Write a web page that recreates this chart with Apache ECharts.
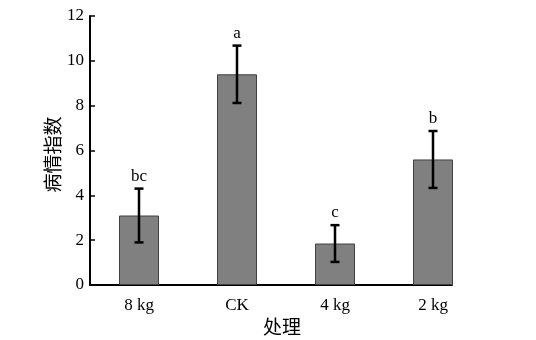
<!DOCTYPE html>
<html>
<head>
<meta charset="utf-8">
<script src="https://cdn.jsdelivr.net/npm/echarts@6/dist/echarts.min.js"></script>
<style>html,body{margin:0;padding:0;background:#fff}#c{width:536px;height:340px}</style>
</head>
<body>
<div id="c"></div>
<script>
const categories = ['8 kg', 'CK', '4 kg', '2 kg'];
const means = [3.1, 9.4, 1.85, 5.6];
const errors = [1.2, 1.28, 0.82, 1.27];
const letters = ['bc', 'a', 'c', 'b'];
const yTicks = [0, 2, 4, 6, 8, 10, 12];

const serif = '"Liberation Serif", "DejaVu Serif", serif';
const cjk = '"Noto Sans CJK SC", sans-serif';

const chart = echarts.init(document.getElementById('c'));
const errData = categories.map((c, i) => [i, means[i] - errors[i], means[i] + errors[i], letters[i]]);

chart.setOption({
  animation: false,
  grid: [
    { left: 90, right: 54, top: 16, bottom: 55, outerBoundsMode: 'none', containLabel: false },
    { left: 90, right: 84, top: 16, bottom: 55, outerBoundsMode: 'none', containLabel: false }
  ],
  xAxis: [
    {
      type: 'category', data: categories, gridIndex: 0,
      axisLine: { show: false }, axisTick: { show: false },
      axisLabel: { color: '#000', fontFamily: serif, fontSize: 17, margin: 12 },
      name: '处理', nameLocation: 'middle', nameGap: 32, nameMoveOverlap: false,
      nameTextStyle: { color: '#000', fontFamily: cjk, fontSize: 19, fontWeight: 'normal', padding: [0, 8, 0, 0] }
    },
    {
      type: 'value', gridIndex: 1, min: 0, max: 1,
      axisLine: { show: true, lineStyle: { color: '#000', width: 2 } },
      axisTick: { show: false }, axisLabel: { show: false }, splitLine: { show: false }
    }
  ],
  yAxis: [
    {
      type: 'value', gridIndex: 0, min: yTicks[0], max: yTicks[yTicks.length - 1], interval: 2,
      axisLine: { show: true, lineStyle: { color: '#000', width: 2 } },
      axisTick: { show: true, inside: true, length: 5, lineStyle: { color: '#000', width: 1.5 } },
      axisLabel: { color: '#000', fontFamily: serif, fontSize: 17, margin: 6 },
      splitLine: { show: false },
      name: '病情指数', nameLocation: 'middle', nameGap: 28, nameMoveOverlap: false,
      nameTextStyle: { color: '#000', fontFamily: cjk, fontSize: 19, fontWeight: 'normal', padding: [0, 8, 0, 0] }
    },
    {
      type: 'value', gridIndex: 1, show: false, min: 0, max: 1
    }
  ],
  series: [
    {
      type: 'bar', data: means, barWidth: 40, xAxisIndex: 0, yAxisIndex: 0,
      itemStyle: { color: '#808080', borderColor: '#404040', borderWidth: 1 }
    },
    {
      type: 'custom', data: errData, xAxisIndex: 0, yAxisIndex: 0, z: 5,
      renderItem: function (params, api) {
        const x = api.value(0);
        const lo = api.coord([x, api.value(1)]);
        const hi = api.coord([x, api.value(2)]);
        const cw = 4.5;
        const st = { stroke: '#000', lineWidth: 2.5 };
        return {
          type: 'group',
          children: [
            { type: 'line', shape: { x1: lo[0], y1: lo[1], x2: hi[0], y2: hi[1] }, style: st },
            { type: 'line', shape: { x1: lo[0] - cw, y1: lo[1], x2: lo[0] + cw, y2: lo[1] }, style: st },
            { type: 'line', shape: { x1: hi[0] - cw, y1: hi[1], x2: hi[0] + cw, y2: hi[1] }, style: st },
            { type: 'text', style: { text: letters[params.dataIndex], x: hi[0], y: hi[1] - 4, align: 'center', verticalAlign: 'bottom', fill: '#000', font: '17px ' + serif } }
          ]
        };
      }
    }
  ]
});
</script>
</body>
</html>
